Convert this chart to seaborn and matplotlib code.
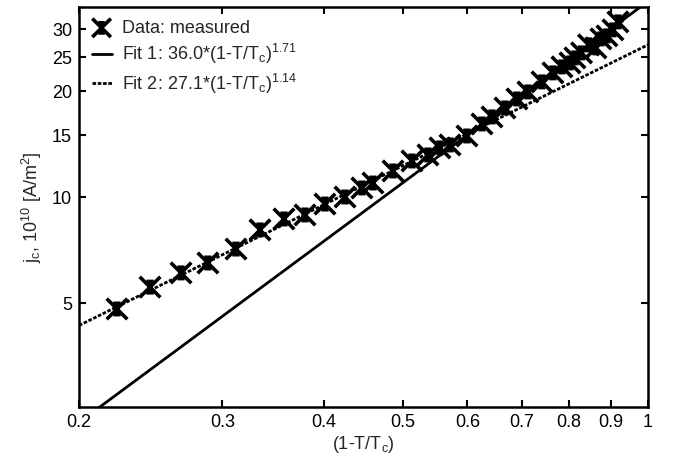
import numpy as np
import pandas as pd
import matplotlib
matplotlib.use("Agg")
import matplotlib.pyplot as plt
from matplotlib.path import Path
import seaborn as sns

# measured data (1-T/Tc, jc in 1e10 A/m^2)
x_meas = [0.2227, 0.2445, 0.2669, 0.2880, 0.3118, 0.3337, 0.3571, 0.3790, 0.4010,
          0.4244, 0.4452, 0.4593, 0.4861, 0.5129, 0.5366, 0.5551, 0.5711, 0.5992,
          0.6252, 0.6431, 0.6672, 0.6902, 0.7120, 0.7408, 0.7642, 0.7839, 0.8019,
          0.8132, 0.8286, 0.8451, 0.8630, 0.8753, 0.8903, 0.9055, 0.9184]
y_meas = [4.82, 5.56, 6.10, 6.51, 7.13, 8.08, 8.68, 8.91, 9.57,
          10.02, 10.63, 10.98, 11.88, 12.68, 13.19, 13.81, 14.08, 14.93,
          16.15, 16.91, 17.93, 19.02, 19.91, 21.26, 22.55, 23.45, 24.07,
          24.87, 25.70, 27.08, 26.55, 28.16, 28.72, 29.87, 31.47]

# fit parameters
fit1_a, fit1_b = 36.0, 1.71
fit2_a, fit2_b = 27.1, 1.14

x_ticks = [0.2, 0.3, 0.4, 0.5, 0.6, 0.7, 0.8, 0.9, 1]
x_ticklabels = ["0.2", "0.3", "0.4", "0.5", "0.6", "0.7", "0.8", "0.9", "1"]
y_ticks = [5, 10, 15, 20, 25, 30]
y_ticklabels = ["5", "10", "15", "20", "25", "30"]

sns.set_style("ticks")
plt.rcParams["font.family"] = ["Liberation Sans", "DejaVu Sans"]
plt.rcParams["mathtext.fontset"] = "custom"
plt.rcParams["mathtext.rm"] = "Liberation Sans"
plt.rcParams["mathtext.it"] = "Liberation Sans"

fig = plt.figure(figsize=(6.73, 4.63), dpi=100)
ax = fig.add_axes([0.1174, 0.121, 0.8455, 0.864])

xf = np.geomspace(0.2, 1.0, 200)
fits = pd.DataFrame({"x": xf,
                     "fit1": fit1_a * xf ** fit1_b,
                     "fit2": fit2_a * xf ** fit2_b})

# custom marker: X with small I-beam (errorbar-like)
verts = [(-1, -1), (1, 1), (-1, 1), (1, -1),
         (0, -0.55), (0, 0.55),
         (-0.35, 0.55), (0.35, 0.55), (-0.35, -0.55), (0.35, -0.55),
         (-0.2, 0.3), (0.2, 0.3), (-0.2, -0.3), (0.2, -0.3)]
codes = [Path.MOVETO, Path.LINETO] * 7
xmark = Path(verts, codes)

sns.scatterplot(x=x_meas, y=y_meas, ax=ax, marker=xmark, s=220,
                facecolors="none", edgecolor="black", color="black",
                linewidth=2.6, label="Data: measured", zorder=3)
sns.lineplot(data=fits, x="x", y="fit1", ax=ax, color="black", lw=2.0,
             label=r"Fit 1: 36.0*(1-T/T$_\mathrm{c}$)$^{1.71}$")
sns.lineplot(data=fits, x="x", y="fit2", ax=ax, color="black", lw=2.0,
             dashes=(1.3, 0.6), label=r"Fit 2: 27.1*(1-T/T$_\mathrm{c}$)$^{1.14}$")

ax.set_xscale("log")
ax.set_yscale("log")
ax.set_xlim(0.2, 1.0)
ax.set_ylim(2.54, 34.7)
ax.set_xticks(x_ticks)
ax.set_xticklabels(x_ticklabels)
ax.set_yticks(y_ticks)
ax.set_yticklabels(y_ticklabels)
ax.minorticks_off()
ax.tick_params(which="both", direction="in", top=True, right=True,
               length=5, width=1.5, labelsize=13, colors="black", pad=5)
for s in ax.spines.values():
    s.set_linewidth(1.8)
    s.set_color("black")

ax.set_xlabel(r"(1-T/T$_\mathrm{c}$)", fontsize=13, labelpad=2)
ax.set_ylabel(r"j$_\mathrm{c}$, 10$^{10}$ [A/m$^{2}$]", fontsize=13, labelpad=6)

leg = ax.legend(loc="upper left", frameon=False, fontsize=13,
                handlelength=1.1, handletextpad=0.6, borderaxespad=0.3,
                labelspacing=0.3, markerscale=0.9)

fig.savefig("out.png", dpi=100)
